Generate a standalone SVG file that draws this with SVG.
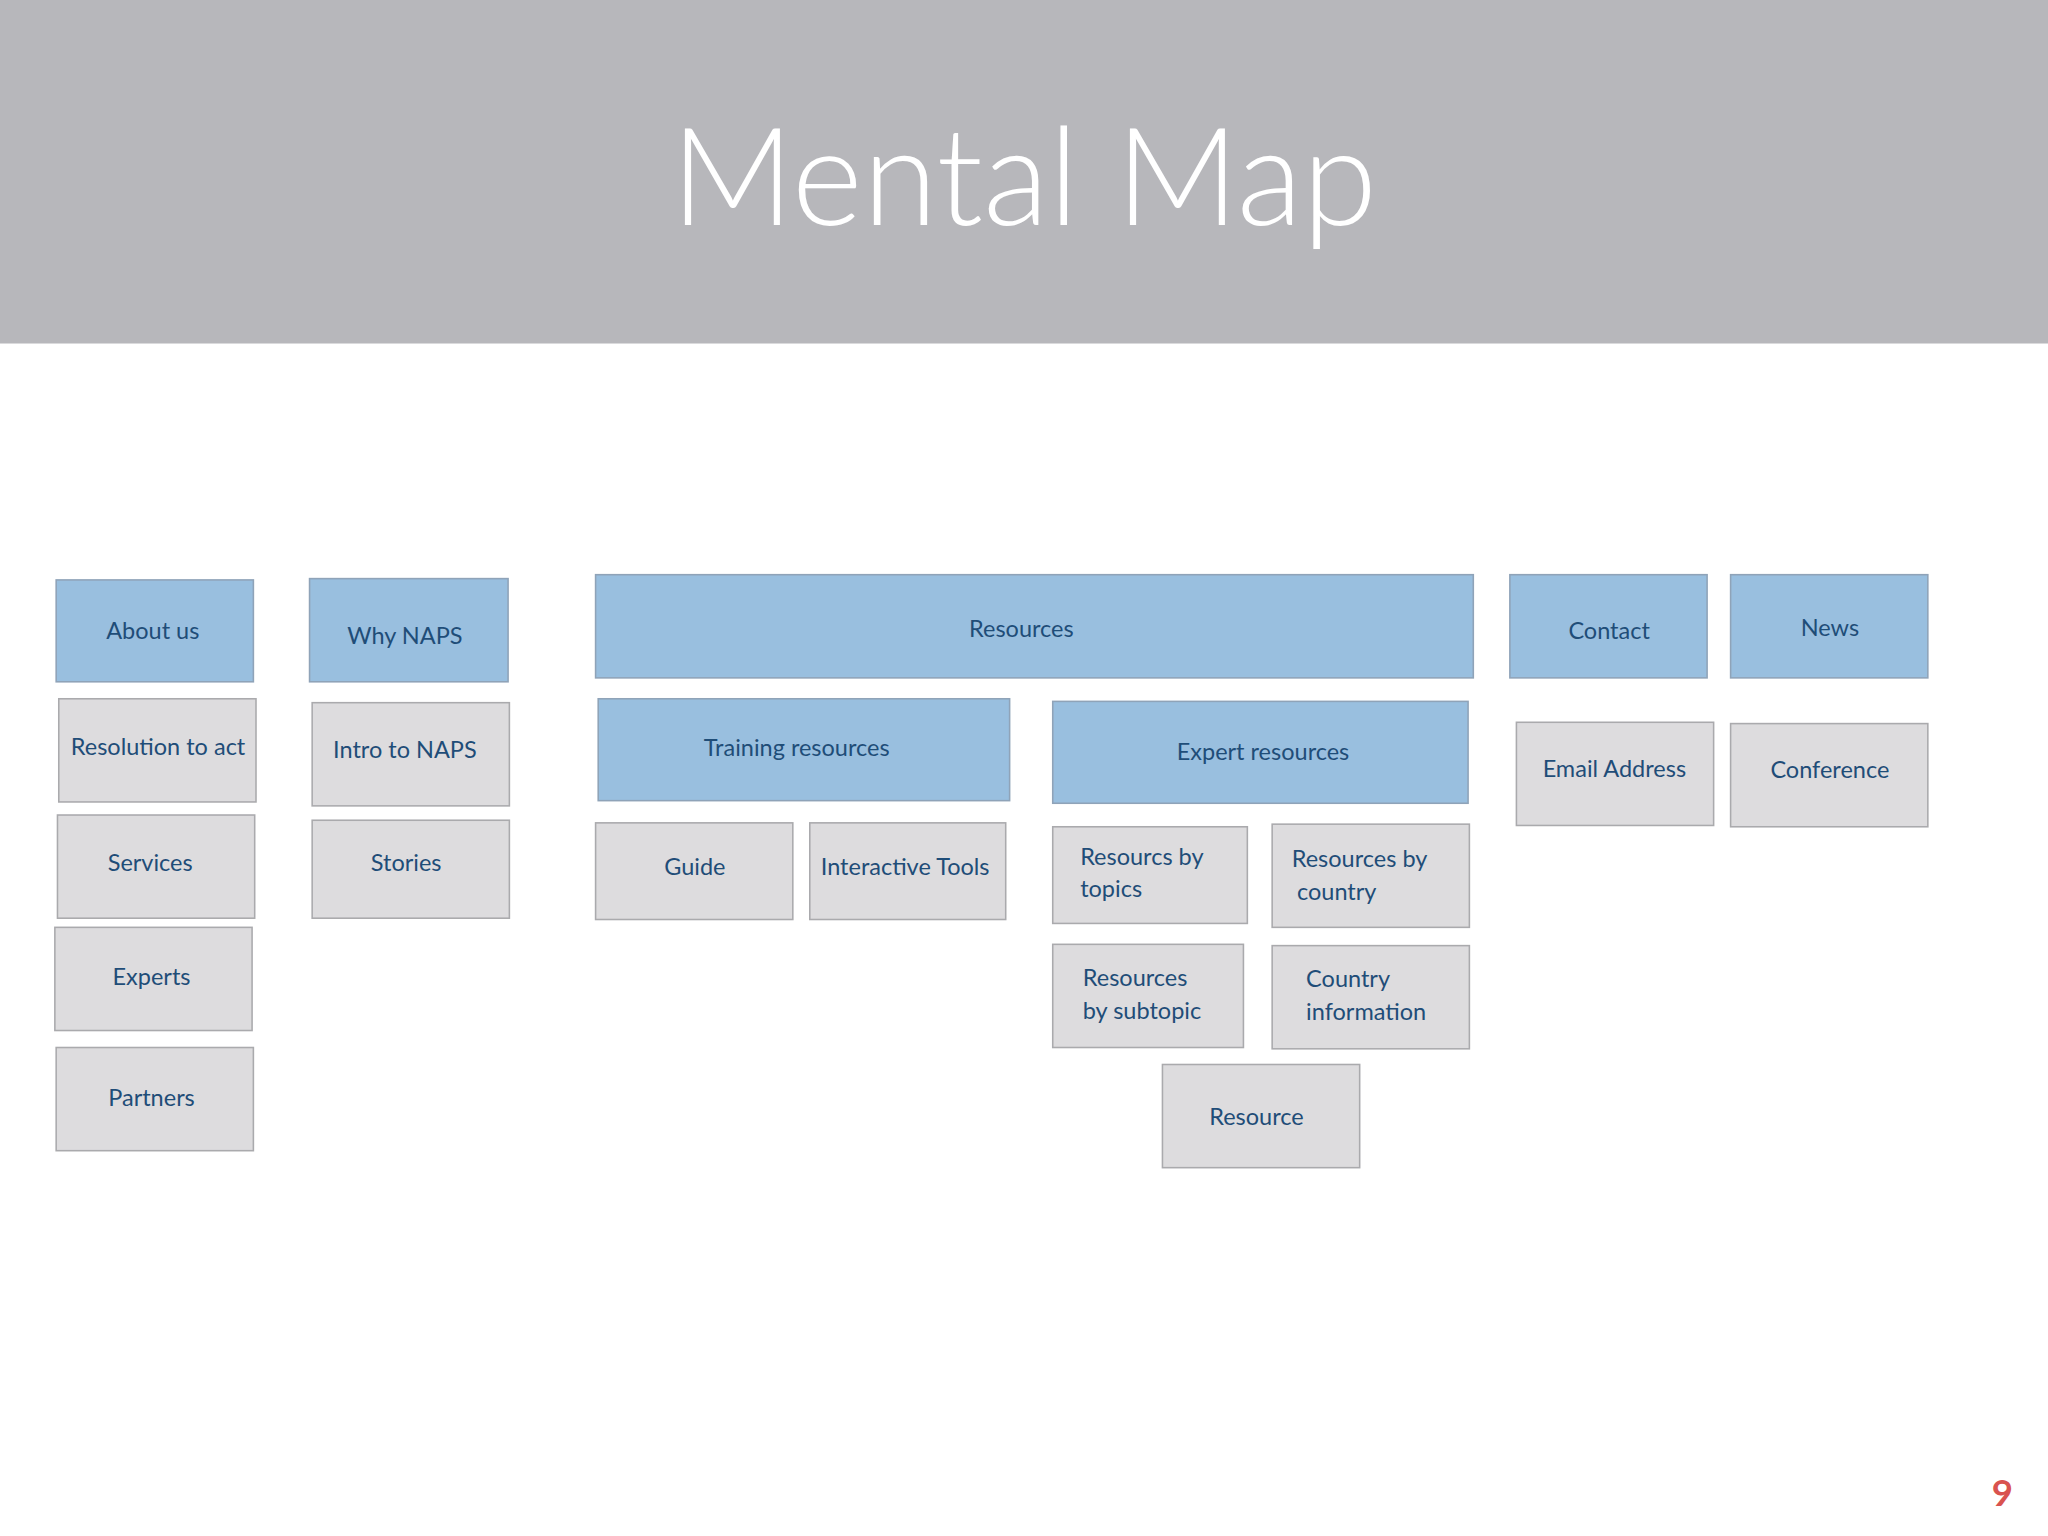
<svg xmlns="http://www.w3.org/2000/svg" width="2048" height="1536" viewBox="0 0 2048 1536">
<style>
.b rect{fill:#99bfdf;stroke:#8fa3b8;stroke-width:1.2}
.g rect{fill:#dddcde;stroke:#aaaaad;stroke-width:1.2}
text{font-family:Lato,"Noto Sans",sans-serif;font-size:18px;fill:#1f4d78}
.c{text-anchor:middle}
</style>
<rect width="2048" height="1536" fill="#ffffff"/>
<g transform="scale(1.30612)">
<rect x="0" y="0" width="1568" height="263" fill="#b7b7bb"/>
<text x="784" y="172" class="c" style="font-size:104px;fill:#ffffff;font-weight:300">Mental Map</text>
<g id="about" class="b"><rect x="43" y="444" width="151" height="78"/><text x="117" y="489" class="c">About us</text></g>
<g id="why" class="b"><rect x="237" y="443" width="152" height="79"/><text x="310" y="493" class="c">Why NAPS</text></g>
<g id="resources" class="b"><rect x="456" y="440" width="672" height="79"/><text x="782" y="488" class="c">Resources</text></g>
<g id="contact" class="b"><rect x="1156" y="440" width="151" height="79"/><text x="1232" y="489" class="c">Contact</text></g>
<g id="news" class="b"><rect x="1325" y="440" width="151" height="79"/><text x="1401" y="487" class="c">News</text></g>
<g id="resolution" class="g"><rect x="45" y="535" width="151" height="79"/><text x="121" y="578" class="c">Resolution to act</text></g>
<g id="services" class="g"><rect x="44" y="624" width="151" height="79"/><text x="115" y="667" class="c">Services</text></g>
<g id="experts" class="g"><rect x="42" y="710" width="151" height="79"/><text x="116" y="754" class="c">Experts</text></g>
<g id="partners" class="g"><rect x="43" y="802" width="151" height="79"/><text x="116" y="847" class="c">Partners</text></g>
<g id="intro" class="g"><rect x="239" y="538" width="151" height="79"/><text x="310" y="580" class="c">Intro to NAPS</text></g>
<g id="stories" class="g"><rect x="239" y="628" width="151" height="75"/><text x="311" y="667" class="c">Stories</text></g>
<g id="training" class="b"><rect x="458" y="535" width="315" height="78"/><text x="610" y="579" class="c">Training resources</text></g>
<g id="expert" class="b"><rect x="806" y="537" width="318" height="78"/><text x="967" y="582" class="c">Expert  resources</text></g>
<g id="guide" class="g"><rect x="456" y="630" width="151" height="74"/><text x="532" y="670" class="c">Guide</text></g>
<g id="tools" class="g"><rect x="620" y="630" width="150" height="74"/><text x="693" y="670" class="c">Interactive Tools</text></g>
<g id="bytopics" class="g"><rect x="806" y="633" width="149" height="74"/><text x="827" y="662">Resourcs by</text><text x="827" y="687">topics</text></g>
<g id="bycountry" class="g"><rect x="974" y="631" width="151" height="79"/><text x="989" y="664">Resources by</text><text x="993" y="689">country</text></g>
<g id="bysubtopic" class="g"><rect x="806" y="723" width="146" height="79"/><text x="829" y="755">Resources</text><text x="829" y="780">by subtopic</text></g>
<g id="countryinfo" class="g"><rect x="974" y="724" width="151" height="79"/><text x="1000" y="756">Country</text><text x="1000" y="781">information</text></g>
<g id="resource" class="g"><rect x="890" y="815" width="151" height="79"/><text x="962" y="861" class="c">Resource</text></g>
<g id="email" class="g"><rect x="1161" y="553" width="151" height="79"/><text x="1236" y="595" class="c">Email Address</text></g>
<g id="conference" class="g"><rect x="1325" y="554" width="151" height="79"/><text x="1401" y="596" class="c">Conference</text></g>
<g id="connectors"></g>
<text x="1533" y="1153" class="c" style="font-size:28px;font-weight:bold;fill:#d9534f">9</text>
</g>
</svg>
